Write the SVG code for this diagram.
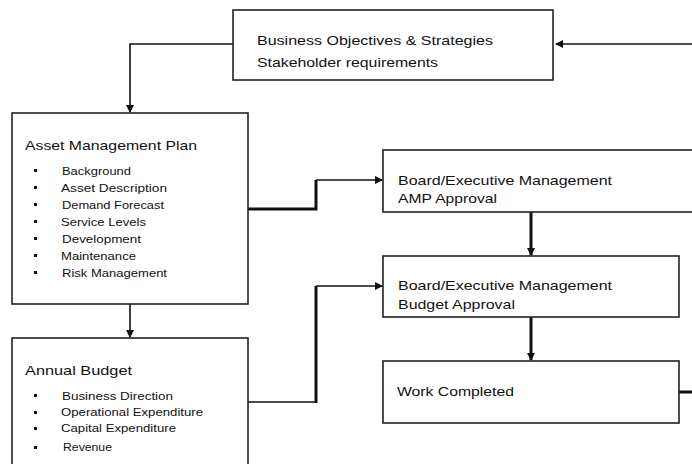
<svg xmlns="http://www.w3.org/2000/svg" width="692" height="464" viewBox="0 0 692 464">
<style>
.box{fill:#fff;stroke:#222;stroke-width:1.6}
.t{font-family:"Liberation Sans",Arial,sans-serif;fill:#111}
.h{font-size:13px}
.i{font-size:11px}
.c{fill:none;stroke:#111;stroke-width:1.6}
.k{fill:none;stroke:#111;stroke-width:3}
.b{fill:#111}
</style>
<defs>
<marker id="ah" markerWidth="8" markerHeight="8" refX="7" refY="4" orient="auto" markerUnits="userSpaceOnUse">
<path d="M0,0 L8,4 L0,8 Z" fill="#111"/>
</marker>
</defs>
<rect width="692" height="464" fill="#fff"/>
<g id="connectors">
<path class="c" d="M692,44 H556" marker-end="url(#ah)"/>
<path class="c" d="M233,44 H130 V112" marker-end="url(#ah)"/>
<path class="c" d="M130,304 V337" marker-end="url(#ah)"/>
<path class="k" d="M248,209 H316 V180"/>
<path class="c" d="M316,180 H382" marker-end="url(#ah)"/>
<path class="c" d="M248,402 H316"/>
<path class="k" d="M316,403 V286"/>
<path class="c" d="M316,286 H382" marker-end="url(#ah)"/>
<path class="k" d="M531,212 V255" marker-end="url(#ah)"/>
<path class="k" d="M531,317 V360" marker-end="url(#ah)"/>
<path class="k" d="M679,392 H692"/>
</g>
<g id="objectives">
<rect class="box" x="233" y="10" width="320" height="70"/>
<text class="t h" x="257" y="45" textLength="236" lengthAdjust="spacingAndGlyphs">Business Objectives &amp; Strategies</text>
<text class="t h" x="257" y="67" textLength="181" lengthAdjust="spacingAndGlyphs">Stakeholder requirements</text>
</g>
<g id="amp">
<rect class="box" x="12" y="113" width="236" height="191"/>
<text class="t h" x="25" y="150" textLength="172" lengthAdjust="spacingAndGlyphs">Asset Management Plan</text>
<g class="b">
<rect x="34" y="169" width="3" height="3"/>
<rect x="34" y="186" width="3" height="3"/>
<rect x="34" y="203" width="3" height="3"/>
<rect x="34" y="220" width="3" height="3"/>
<rect x="34" y="237" width="3" height="3"/>
<rect x="34" y="254" width="3" height="3"/>
<rect x="34" y="271" width="3" height="3"/>
</g>
<text class="t i" x="62" y="175" textLength="69" lengthAdjust="spacingAndGlyphs">Background</text>
<text class="t i" x="61" y="192" textLength="106" lengthAdjust="spacingAndGlyphs">Asset Description</text>
<text class="t i" x="62" y="209" textLength="102" lengthAdjust="spacingAndGlyphs">Demand Forecast</text>
<text class="t i" x="61" y="226" textLength="85" lengthAdjust="spacingAndGlyphs">Service Levels</text>
<text class="t i" x="62" y="243" textLength="79" lengthAdjust="spacingAndGlyphs">Development</text>
<text class="t i" x="61" y="260" textLength="75" lengthAdjust="spacingAndGlyphs">Maintenance</text>
<text class="t i" x="62" y="277" textLength="105" lengthAdjust="spacingAndGlyphs">Risk Management</text>
</g>
<g id="budget">
<rect class="box" x="12" y="338" width="236" height="140"/>
<text class="t h" x="25" y="375" textLength="107" lengthAdjust="spacingAndGlyphs">Annual Budget</text>
<g class="b">
<rect x="34" y="394" width="3" height="3"/>
<rect x="34" y="411" width="3" height="3"/>
<rect x="34" y="427" width="3" height="3"/>
<rect x="34" y="446" width="3" height="3"/>
</g>
<text class="t i" x="62" y="400" textLength="111" lengthAdjust="spacingAndGlyphs">Business Direction</text>
<text class="t i" x="61" y="416" textLength="142" lengthAdjust="spacingAndGlyphs">Operational Expenditure</text>
<text class="t i" x="61" y="432" textLength="115" lengthAdjust="spacingAndGlyphs">Capital Expenditure</text>
<text class="t i" x="63" y="451" textLength="49" lengthAdjust="spacingAndGlyphs">Revenue</text>
</g>
<g id="amp-approval">
<rect class="box" x="383" y="150" width="330" height="62"/>
<text class="t h" x="398" y="185" textLength="214" lengthAdjust="spacingAndGlyphs">Board/Executive Management</text>
<text class="t h" x="398" y="203" textLength="99" lengthAdjust="spacingAndGlyphs">AMP Approval</text>
</g>
<g id="budget-approval">
<rect class="box" x="383" y="256" width="296" height="61"/>
<text class="t h" x="398" y="290" textLength="214" lengthAdjust="spacingAndGlyphs">Board/Executive Management</text>
<text class="t h" x="398" y="309" textLength="117" lengthAdjust="spacingAndGlyphs">Budget Approval</text>
</g>
<g id="work-completed">
<rect class="box" x="383" y="361" width="296" height="62"/>
<text class="t h" x="397" y="396" textLength="117" lengthAdjust="spacingAndGlyphs">Work Completed</text>
</g>
</svg>
